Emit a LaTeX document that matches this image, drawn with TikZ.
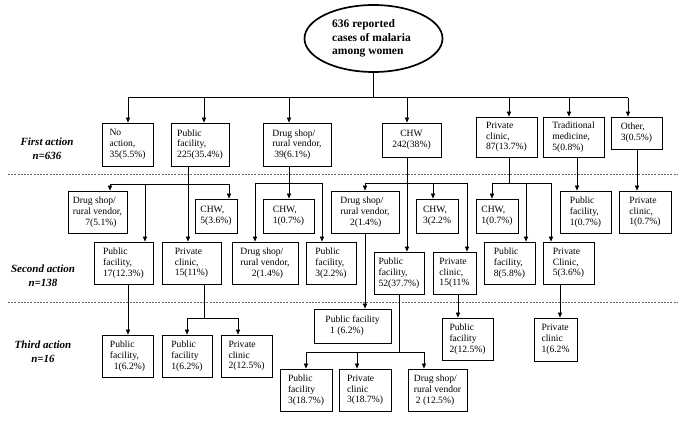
\documentclass[tikz,border=0pt]{standalone}
\usepackage{fontspec}
\setmainfont{Liberation Serif}
\usetikzlibrary{arrows.meta,shapes.geometric}
\tikzset{
  box/.style={draw, line width=0.85pt, inner sep=0pt, align=left,
    font=\fontsize{9.6}{10.8}\selectfont},
  root/.style={draw, ellipse, line width=1.7pt, inner sep=0pt, align=left,
    minimum width=138pt, minimum height=67pt,
    font=\fontsize{11.5}{13.5}\selectfont\bfseries},
  arr/.style={line width=0.7pt, -{Triangle[length=5pt,width=4.2pt]}},
  ln/.style={line width=0.7pt},
  sepline/.style={dash pattern=on 2pt off 1.2pt, line width=0.45pt, black!60},
  lab/.style={align=center, font=\fontsize{11}{14}\selectfont\bfseries\itshape}
}
\newcommand{\bx}[6]{\node[box, minimum width=#4pt, minimum height=#5pt] (#1) at (#2,#3) {#6};}
\begin{document}
\begin{tikzpicture}[x=1pt,y=-1pt]
\useasboundingbox (0,0) rectangle (685,421);

% separators
\coordinate (s1a) at (8,174);  \coordinate (s1b) at (678,174);
\coordinate (s2a) at (8,302);  \coordinate (s2b) at (678,302);
\draw[sepline] (s1a) -- (s1b);
\draw[sepline] (s2a) -- (s2b);

% row labels
\node[lab] (lab1) at (47,149) {First action\\n=636};
\node[lab] (lab2) at (43,276) {Second action\\n=138};
\node[lab] (lab3) at (43,352) {Third action\\n=16};

% root
\node[root] (root) at (373.5,38.5) {\hspace*{-4pt}636 reported\\\hspace*{-4pt}cases of malaria\\\hspace*{-4pt}among women};

% first action
\bx{noact}{127.5}{144.5}{51}{43}{No\\action,\\35(5.5\%)}
\bx{pf1}{200}{144.5}{58}{43}{Public\\facility,\\225(35.4\%)}
\bx{ds1}{297}{144.5}{68}{43}{Drug shop/\\rural vendor,\\\hspace*{0.2em}39(6.1\%)}
\node[box, align=center, minimum width=59pt, minimum height=34pt] (chw1) at (411.5,140) {CHW\\242(38\%)};
\bx{pc1}{506.5}{137}{61}{40}{Private\\clinic,\\87(13.7\%)}
\bx{tm1}{573.5}{137}{61}{40}{Traditional\\medicine,\\5(0.8\%)}
\bx{oth1}{636.5}{133}{51}{32}{Other,\\3(0.5\%)}

% second action
\bx{ds2a}{97.5}{212}{59}{42}{Drug shop/\\rural vendor,\\\hspace*{1.3em}7(5.1\%)}
\bx{chw2a}{216}{216}{42}{34}{CHW,\\5(3.6\%)}
\bx{pf2a}{123.5}{263}{59}{42}{Public\\facility,\\17(12.3\%)}
\bx{pc2a}{191.5}{263}{59}{42}{Private\\clinic,\\15(11\%)}
\bx{chw2b}{288.5}{216}{51}{34}{CHW,\\1(0.7\%)}
\bx{ds2b}{265}{263}{66}{42}{Drug shop/\\rural vendor,\\\hspace*{1.2em}2(1.4\%)}
\bx{pf2b}{331}{263}{50}{42}{Public\\facility,\\3(2.2\%)}
\bx{ds2c}{365}{212}{68}{42}{Drug shop/\\rural vendor,\\\hspace*{1.0em}2(1.4\%)}
\bx{chw2c}{437}{216}{42}{34}{CHW,\\3(2.2\%}
\bx{pf2c}{399}{273}{50}{42}{Public\\facility,\\52(37.7\%)}
\bx{pc2c}{454.5}{273}{43}{42}{Private\\clinic,\\15(11\%}
\bx{chw2d}{497}{216}{42}{34}{CHW,\\1(0.7\%)}
\bx{pf2d}{509.5}{263}{51}{42}{Public\\facility,\\8(5.8\%)}
\bx{pc2d}{568.5}{263}{51}{42}{Private\\Clinic,\\5(3.6\%)}
\bx{pf2e}{585.5}{212}{51}{42}{Public\\facility,\\1(0.7\%)}
\bx{pc2e}{645}{212}{52}{42}{Private\\clinic,\\1(0.7\%)}

% third action
\bx{pf3a}{127.5}{356}{51}{42}{Public\\facility,\\\hspace*{0.4em}1(6.2\%)}
\bx{pf3b}{187}{356}{50}{42}{Public\\facility\\1(6.2\%)}
\bx{pc3b}{246.5}{356}{51}{42}{Private\\clinic\\2(12.5\%)}
\bx{pf3c}{352.5}{326}{77}{34}{Public facility\\\hspace*{0.5em}1 (6.2\%)}
\bx{pf3d}{306}{390}{52}{42}{Public\\facility\\3(18.7\%)}
\bx{pc3d}{365}{390}{52}{42}{Private\\clinic\\3(18.7\%)}
\bx{ds3d}{437.5}{390}{59}{42}{Drug shop/\\rural vendor\\\hspace*{0.2em}2 (12.5\%)}
\bx{pf3e}{467.5}{339}{51}{42}{Public\\facility\\2(12.5\%)}
\bx{pc3e}{555.5}{339.5}{43}{43}{Private\\clinic\\1(6.2\%}

% root -> first action
\coordinate (a1) at (128,97.5);
\coordinate (a2) at (204,97.5);
\coordinate (a3) at (289,97.5);
\coordinate (a4) at (407,97.5);
\coordinate (a5) at (509,97.5);
\coordinate (a6) at (569,97.5);
\coordinate (a7) at (628,97.5);
\draw[ln] (root.south) -- (root.south |- a1);
\draw[ln] (a1) -- (a7);
\foreach \c/\n in {a1/noact,a2/pf1,a3/ds1,a4/chw1,a5/pc1,a6/tm1,a7/oth1}
  \draw[arr] (\c) -- (\c |- \n.north);

% public facility (first) -> second
\coordinate (b1) at (110,184);
\coordinate (b2) at (145,184);
\coordinate (b3) at (188,184);
\coordinate (b4) at (229,184);
\draw[arr] (b3 |- pf1.south) -- (b3 |- pc2a.north);
\draw[ln] (b1) -- (b4);
\foreach \c/\n in {b1/ds2a,b2/pf2a,b4/chw2a}
  \draw[arr] (\c) -- (\c |- \n.north);

% drug shop (first) -> second
\coordinate (c1) at (255,183);
\coordinate (c2) at (289,183);
\coordinate (c3) at (322,183);
\draw[arr] (c2 |- ds1.south) -- (c2 |- chw2b.north);
\draw[ln] (c1) -- (c3);
\foreach \c/\n in {c1/ds2b,c3/pf2b}
  \draw[arr] (\c) -- (\c |- \n.north);

% CHW (first) -> second
\coordinate (d1) at (365,183);
\coordinate (d2) at (407,183);
\coordinate (d3) at (433,183);
\coordinate (d4) at (467,183);
\draw[arr] (d2 |- chw1.south) -- (d2 |- pf2c.north);
\draw[ln] (d1) -- (d4);
\foreach \c/\n in {d1/ds2c,d3/chw2c,d4/pc2c}
  \draw[arr] (\c) -- (\c |- \n.north);

% private clinic (first) -> second
\coordinate (e1) at (492,183);
\coordinate (e2) at (509,183);
\coordinate (e3) at (526,183);
\coordinate (e4) at (551,183);
\draw[ln] (e2 |- pc1.south) -- (e2);
\draw[ln] (e1) -- (e4);
\foreach \c/\n in {e1/chw2d,e3/pf2d,e4/pc2d}
  \draw[arr] (\c) -- (\c |- \n.north);

% traditional and other
\coordinate (f1) at (577,180);
\coordinate (g1) at (637,180);
\draw[arr] (f1 |- tm1.south) -- (f1 |- pf2e.north);
\draw[arr] (g1 |- oth1.south) -- (g1 |- pc2e.north);

% second -> third
\coordinate (h1) at (128,310);
\draw[arr] (h1 |- pf2a.south) -- (h1 |- pf3a.north);

\coordinate (i1) at (187,318);
\coordinate (i2) at (204,318);
\coordinate (i3) at (238,318);
\draw[ln] (i2 |- pc2a.south) -- (i2);
\draw[ln] (i1) -- (i3);
\foreach \c/\n in {i1/pf3b,i3/pc3b}
  \draw[arr] (\c) -- (\c |- \n.north);

\coordinate (j1) at (365,300);
\draw[arr] (j1 |- ds2c.south) -- (j1 |- pf3c.north);

\coordinate (k1) at (306,352);
\coordinate (k2) at (357,352);
\coordinate (k3) at (399,352);
\coordinate (k4) at (424,352);
\draw[ln] (k3 |- pf2c.south) -- (k3);
\draw[ln] (k1) -- (k4);
\foreach \c/\n in {k1/pf3d,k2/pc3d,k4/ds3d}
  \draw[arr] (\c) -- (\c |- \n.north);

\coordinate (l1) at (458,300);
\draw[arr] (l1 |- pc2c.south) -- (l1 |- pf3e.north);

\coordinate (m1) at (560,300);
\draw[arr] (m1 |- pc2d.south) -- (m1 |- pc3e.north);
\end{tikzpicture}
\end{document}
